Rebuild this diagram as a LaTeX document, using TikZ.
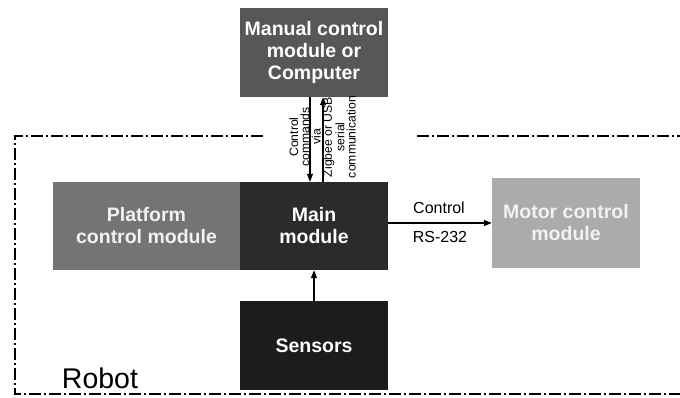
\documentclass[tikz,border=0pt]{standalone}
\usepackage{fontspec}
\setmainfont{Liberation Sans}
\usetikzlibrary{arrows.meta}
\definecolor{manualc}{HTML}{575757}
\definecolor{platc}{HTML}{747474}
\definecolor{mainc}{HTML}{2B2B2B}
\definecolor{sensc}{HTML}{1C1C1C}
\definecolor{motorc}{HTML}{ABABAB}
\definecolor{lighttext}{HTML}{F2F2F2}
\tikzset{
  box/.style={rectangle, draw=none, inner sep=0pt, align=center,
    font=\fontsize{19.5}{22}\selectfont\bfseries, text=white},
  arr/.style={-{Triangle[length=8pt,width=6pt]}, line width=1.2pt, black},
  robotline/.style={line width=1.8pt, black,
    dash pattern=on 12pt off 3pt on 2pt off 3pt},
  lbl/.style={inner sep=0pt, font=\fontsize{16}{18}\selectfont},
  vlbl/.style={inner sep=0pt, align=center, rotate=90,
    font=\fontsize{12.2}{11.3}\selectfont}
}
\begin{document}
\begin{tikzpicture}[x=1pt,y=-1pt]
\useasboundingbox[fill=white] (0,0) rectangle (680,397);
% boundary
\draw[robotline] (263,136) -- (15,136) -- (15,394) -- (680,394);
\draw[robotline] (417,136) -- (680,136);
% boxes
\node[box, fill=manualc, minimum width=148pt, minimum height=89pt] (manual) at (314,52.5) {Manual control\\module or\\Computer};
\node[box, fill=platc, text=lighttext, minimum width=187pt, minimum height=88pt] (plat) at (146.5,226) {Platform\\control module};
\node[box, fill=mainc, minimum width=148pt, minimum height=88pt] (main) at (314,226) {Main\\module};
\node[box, fill=sensc, minimum width=148pt, minimum height=89pt] (sens) at (314,345.5) {Sensors};
\node[box, fill=motorc, text=lighttext, minimum width=148pt, minimum height=90pt] (motor) at (566,223) {Motor control\\module};
% labels
\node[vlbl] (vl) at (322.5,137) {Control\\commands\\via\\Zigbee or USB\\serial\\communication};
\node[lbl] (c1) at (439,208) {Control};
\node[lbl] (c2) at (440,237) {RS-232};
\node[inner sep=0pt, font=\fontsize{28.5}{30}\selectfont] (robot) at (100,378) {Robot};
% connectors
\draw[arr] ([xshift=-4pt]manual.south) -- ([xshift=-4pt]main.north);
\draw[arr] ([xshift=9pt]main.north) -- ([xshift=9pt]manual.south);
\draw[arr] (main.east |- motor.west) -- (motor.west);
\draw[arr] (sens.north) -- (main.south);
\end{tikzpicture}
\end{document}
